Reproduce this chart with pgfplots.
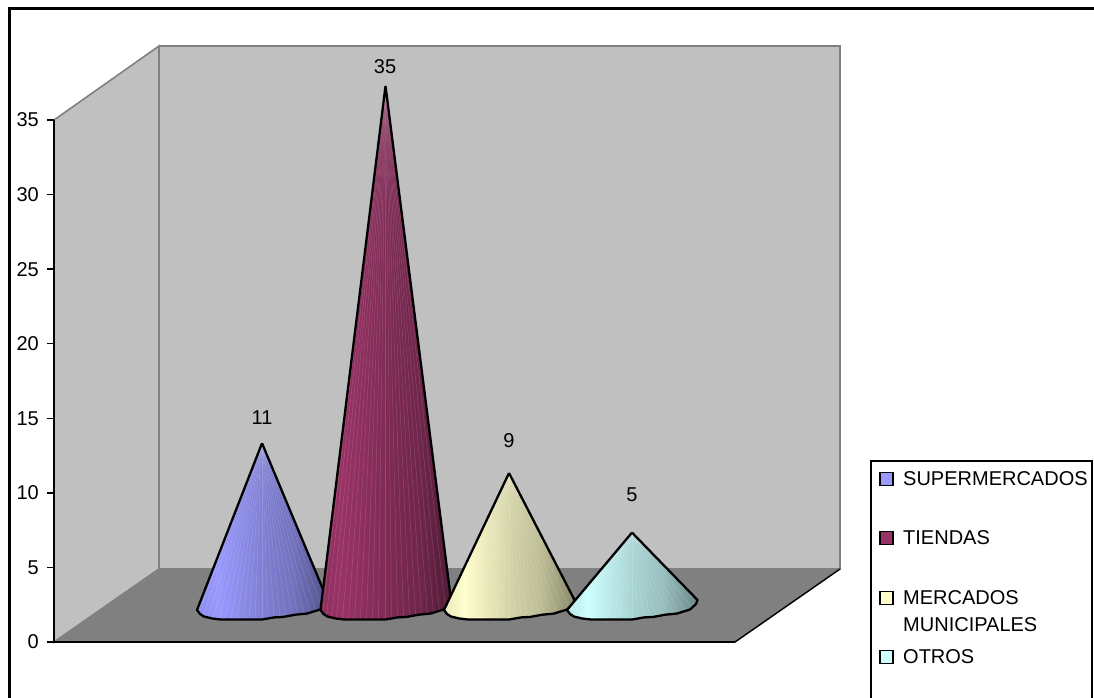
\documentclass[border=0pt]{standalone}
\usepackage{pgfplots}
\usepackage{pgfplotstable}
\usepackage{fontspec}
\pgfplotsset{compat=1.18}
\setmainfont{Liberation Sans}

\definecolor{wall}{RGB}{192,192,192}
\definecolor{wallline}{RGB}{128,128,128}
\definecolor{floorc}{RGB}{128,128,128}
\definecolor{coneA}{RGB}{153,153,255}
\definecolor{coneB}{RGB}{153,51,102}
\definecolor{coneC}{RGB}{255,255,204}
\definecolor{coneD}{RGB}{204,255,255}

% Horizontal light-to-dark shading of a cone's surface
\newcommand\coneshade[1]{%
  \pgfdeclarehorizontalshading{shade#1}{100bp}{%
    color(0bp)=(cone#1!92!black);
    color(25bp)=(cone#1!92!black);
    color(33bp)=(cone#1);
    color(50bp)=(cone#1!83!black);
    color(62bp)=(cone#1!74!black);
    color(75bp)=(cone#1!54!black);
    color(100bp)=(cone#1!54!black)}}
\coneshade{A}\coneshade{B}\coneshade{C}\coneshade{D}

% Outline of a cone, offset from its centre: apex (a=1), then the rim
\pgfplotstableread{
dx    y     a
0     0     1
65.5  0.47  0
64    0.20  0
58    -0.17 0
45    -0.44 0
33    -0.52 0
21    -0.67 0
12    -0.70 0
0     -0.84 0
-41   -0.84 0
-50   -0.77 0
-58   -0.64 0
-62   -0.47 0
-65   -0.20 0
0     0     1
}\conerim

\pgfplotsset{
  frame axis/.style={
    scale only axis, width=1094pt, height=698pt,
    at={(0pt,0pt)}, anchor=south west, hide axis},
  wallfill/.style={fill=wall, draw=wallline, line width=1.6pt, line join=miter},
  legendkey/.style={only marks, mark=square*, mark size=6.6pt,
    mark options={draw=black, line width=1.4pt, fill=#1}},
}

% One cone: centre x, value, shading
\newcommand\drawcone[3]{%
  \addplot[draw=none, shading=shade#3, shading angle=0, forget plot]
    table[x expr=\thisrow{dx}+#1, y expr=\thisrow{y}+\thisrow{a}*#2] {\conerim};
  \foreach \dx/\yy in {-63/-0.40,-59/-0.60,-54/-0.72,-49/-0.78,-43/-0.83,-37/-0.84,
      -31/-0.84,-25/-0.84,-19/-0.84,-13/-0.84,-7/-0.84,0/-0.84,6/-0.80,12/-0.70,
      18/-0.69,24/-0.64,30/-0.55,36/-0.50,42/-0.46,48/-0.39,54/-0.25,60/-0.05}{%
    \pgfmathsetmacro\xx{#1+\dx}%
    \edef\tmp{\noexpand\addplot[white, opacity=0.16, line width=0.5pt, forget plot]
      coordinates {(#1,#2) (\xx,\yy)};}\tmp
  }
  \addplot[black, line width=2.3pt, line join=round, forget plot]
    table[x expr=\thisrow{dx}+#1, y expr=\thisrow{y}+\thisrow{a}*#2] {\conerim};
}

\begin{document}
\begin{tikzpicture}[font=\fontsize{20}{23}\selectfont]
\path[use as bounding box] (0pt,0pt) rectangle (1094pt,698pt);

% Chart area, walls, floor and legend, in page coordinates
\begin{axis}[frame axis, xmin=0, xmax=1094, ymin=0, ymax=698, y dir=reverse]
  \addplot[wallfill] coordinates {(159,46) (840,46) (840,569) (159,569) (159,46)};
  \addplot[wallfill] coordinates {(54,120) (159,46) (159,569) (54,642) (54,120)};
  \addplot[fill=floorc, draw=wallline, line width=1pt]
    coordinates {(54,642) (159,569) (840,569) (735,642) (54,642)};
  \addplot[black, line width=1.4pt] coordinates {(735,642) (840,569)};
  % chart frame
  \addplot[black, line width=3pt] coordinates {(9,698) (9,9) (1094,9)};
  % legend frame
  \addplot[black, line width=1.5pt] coordinates {(871,698) (871,461) (1092,461) (1092,698)};
  % legend keys
  \addplot[legendkey=coneA] coordinates {(886.5,479)};
  \addplot[legendkey=coneB] coordinates {(886.5,538)};
  \addplot[legendkey=coneC] coordinates {(886.5,598)};
  \addplot[legendkey=coneD] coordinates {(886.5,657)};
  % legend entries
  \node[anchor=west, inner sep=0pt] at (axis cs:903,479) {SUPERMERCADOS};
  \node[anchor=west, inner sep=0pt] at (axis cs:903,538) {TIENDAS};
  \node[anchor=west, inner sep=0pt] at (axis cs:903,598) {MERCADOS};
  \node[anchor=west, inner sep=0pt] at (axis cs:903,625) {MUNICIPALES};
  \node[anchor=west, inner sep=0pt] at (axis cs:903,657) {OTROS};
  % value labels
  \node[inner sep=0pt] at (axis cs:262,418) {11};
  \node[inner sep=0pt] at (axis cs:385,67) {35};
  \node[inner sep=0pt] at (axis cs:509,441) {9};
  \node[inner sep=0pt] at (axis cs:632,495) {5};
\end{axis}

% Value axis
\begin{axis}[
  scale only axis, width=681pt, height=522pt,
  at={(54pt,56pt)}, anchor=south west,
  xmin=0, xmax=1, ymin=0, ymax=35,
  axis lines=left, axis line style={-, black, line width=1.6pt},
  xtick=\empty, ytick={0,5,...,35},
  tick align=outside, major tick length=7pt,
  ytick style={black, line width=1.4pt},
  /pgf/number format/assume math mode=true,
  yticklabel style={font=\fontsize{20}{23}\selectfont, inner sep=0pt, xshift=-8pt},
]
\end{axis}

% Cones: x in page coordinates, y in data units above the base plane
\begin{axis}[frame axis, xmin=0, xmax=1094, ymin=-6.113, ymax=40.777, clip=false]
  \drawcone{262}{11}{A}
  \drawcone{385.5}{35}{B}
  \drawcone{509}{9}{C}
  \drawcone{632}{5}{D}
\end{axis}
\end{tikzpicture}
\end{document}
